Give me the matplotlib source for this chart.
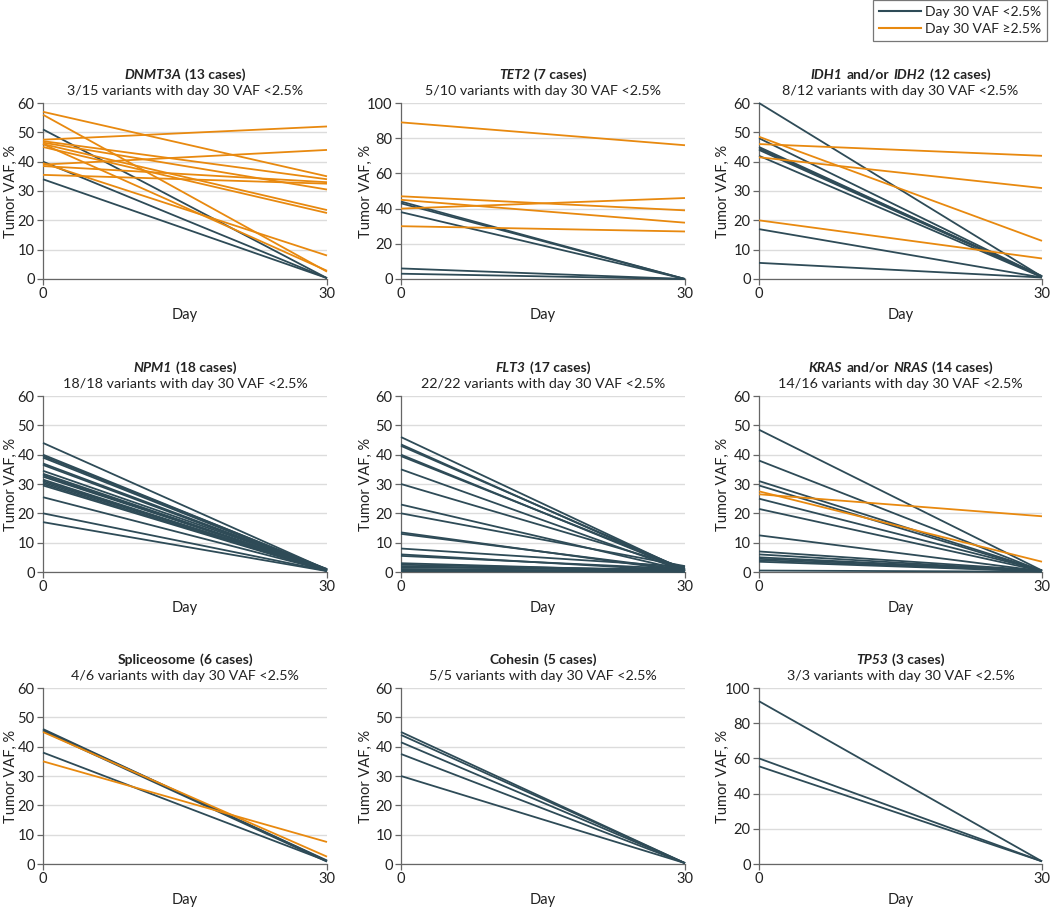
import matplotlib
matplotlib.use("Agg")
import matplotlib.pyplot as plt
from matplotlib.lines import Line2D
from matplotlib.offsetbox import TextArea, HPacker, VPacker, AnchoredOffsetbox

plt.rcParams['font.family'] = ['Lato', 'DejaVu Sans']

DARK = "#2e4b57"
ORANGE = "#e8890f"

days = [0, 30]

# ---- data: (day 0 VAF, day 30 VAF), category: 0 = <2.5%, 1 = >=2.5%
dnmt3a_d0 = [51, 40, 34, 57, 56, 47.5, 47, 46.5, 46, 45, 39, 38.5, 35.5, 39.5, 46]
dnmt3a_d30 = [0.3, 0.3, 0.3, 35, 2.5, 52, 34, 30.5, 23.5, 22.5, 44, 33, 32.5, 8, 2.8]
dnmt3a_cat = [0, 0, 0, 1, 1, 1, 1, 1, 1, 1, 1, 1, 1, 1, 1]

tet2_d0 = [44, 43, 38, 6, 3, 89, 47, 45, 40, 30]
tet2_d30 = [0, 0, 0, 0, 0, 76, 39, 32, 46, 27]
tet2_cat = [0, 0, 0, 0, 0, 1, 1, 1, 1, 1]

idh_d0 = [60, 48, 45, 44.5, 44, 42, 17, 5.5, 48.5, 46, 41.5, 20]
idh_d30 = [0.8, 0.8, 0.8, 1, 0.8, 0.6, 0.5, 0.5, 13, 42, 31, 7]
idh_cat = [0, 0, 0, 0, 0, 0, 0, 0, 1, 1, 1, 1]

npm1_d0 = [44, 40, 39.5, 39, 37, 36.5, 34.5, 33.5, 33, 32.5, 31.5, 31, 30.5, 30, 29.5, 25.5, 20, 17]
npm1_d30 = [0.8, 0.8, 1, 0.6, 0.8, 0.5, 1, 0.7, 0.5, 0.8, 0.4, 0.6, 0.9, 0.5, 0.3, 0.5, 0.4, 0.3]
npm1_cat = [0] * 18

flt3_d0 = [46, 43.5, 43, 40, 39.5, 35, 30, 23, 20, 13.5, 13, 8, 6, 5.5, 3, 2.5, 2, 1.5, 1, 0.8, 0.5, 0.3]
flt3_d30 = [0.5, 0.3, 0.8, 0.5, 1, 0.3, 1.5, 0.5, 2, 0.3, 0.8, 1.8, 0.4, 1, 0.2, 0.5, 0.3, 1, 0.2, 0.4, 0.2, 0.1]
flt3_cat = [0] * 22

ras_d0 = [48.5, 38, 31, 29.5, 25, 21.5, 12.5, 7, 6, 5, 4.5, 4, 3.5, 0.5, 27.5, 26.5]
ras_d30 = [0.5, 0.3, 0.5, 0.3, 0.5, 0.3, 0.3, 0.5, 0.3, 0.3, 0.5, 0.3, 0.2, 0.1, 3.5, 19]
ras_cat = [0] * 14 + [1, 1]

splice_d0 = [46, 45.7, 45.3, 38, 45, 35]
splice_d30 = [1, 1.2, 0.8, 1, 2.5, 7.5]
splice_cat = [0, 0, 0, 0, 1, 1]

cohesin_d0 = [45, 44, 41.5, 37.5, 30]
cohesin_d30 = [0.3, 0.3, 0.3, 0.3, 0.3]
cohesin_cat = [0] * 5

tp53_d0 = [92.5, 60, 55.5]
tp53_d30 = [1.5, 1.5, 1.5]
tp53_cat = [0, 0, 0]

panels = [
    ([("DNMT3A", "bi"), ("(13 cases)", "b")], "3/15 variants with day 30 VAF <2.5%", dnmt3a_d0, dnmt3a_d30, dnmt3a_cat, 60),
    ([("TET2", "bi"), ("(7 cases)", "b")], "5/10 variants with day 30 VAF <2.5%", tet2_d0, tet2_d30, tet2_cat, 100),
    ([("IDH1", "bi"), ("and/or", "b"), ("IDH2", "bi"), ("(12 cases)", "b")], "8/12 variants with day 30 VAF <2.5%", idh_d0, idh_d30, idh_cat, 60),
    ([("NPM1", "bi"), ("(18 cases)", "b")], "18/18 variants with day 30 VAF <2.5%", npm1_d0, npm1_d30, npm1_cat, 60),
    ([("FLT3", "bi"), ("(17 cases)", "b")], "22/22 variants with day 30 VAF <2.5%", flt3_d0, flt3_d30, flt3_cat, 60),
    ([("KRAS", "bi"), ("and/or", "b"), ("NRAS", "bi"), ("(14 cases)", "b")], "14/16 variants with day 30 VAF <2.5%", ras_d0, ras_d30, ras_cat, 60),
    ([("Spliceosome", "b"), ("(6 cases)", "b")], "4/6 variants with day 30 VAF <2.5%", splice_d0, splice_d30, splice_cat, 60),
    ([("Cohesin", "b"), ("(5 cases)", "b")], "5/5 variants with day 30 VAF <2.5%", cohesin_d0, cohesin_d30, cohesin_cat, 60),
    ([("TP53", "bi"), ("(3 cases)", "b")], "3/3 variants with day 30 VAF <2.5%", tp53_d0, tp53_d30, tp53_cat, 100),
]

W, H = 1050, 907
fig = plt.figure(figsize=(W / 100, H / 100), dpi=100)

col_left = [43, 401, 759]
col_w = [284, 284, 283]
ylab_off = [32, 35, 36]
row_top = [103, 396, 688]
row_h = 176

FS = 10
TXT = "#222222"

for i, (title_parts, subtitle, d0, d30, cat, ymax) in enumerate(panels):
    r, c = divmod(i, 3)
    left = col_left[c] / W
    bottom = 1 - (row_top[r] + row_h) / H
    ax = fig.add_axes([left, bottom, col_w[c] / W, row_h / H])
    ax.set_xlim(0, 30)
    ax.set_ylim(0, ymax)
    step = 10 if ymax == 60 else 20
    ax.set_yticks(range(0, ymax + 1, step))
    ax.set_xticks([0, 30])
    ax.grid(axis='y', color='#dcdcdc', lw=1.0)
    ax.set_axisbelow(True)
    for s in ['top', 'right']:
        ax.spines[s].set_visible(False)
    for s in ['left', 'bottom']:
        ax.spines[s].set_color('#666666')
        ax.spines[s].set_linewidth(0.9)
    ax.tick_params(colors='#666666', labelcolor=TXT, labelsize=FS + 0.5, length=4, width=0.9, pad=2)
    # draw orange later so they sit over dark where crossing
    for k in sorted(range(len(d0)), key=lambda k: cat[k]):
        ax.plot(days, [d0[k], d30[k]], color=ORANGE if cat[k] else DARK, lw=1.3,
                solid_capstyle='butt', clip_on=False, zorder=3)
    ax.set_xlabel("Day", fontsize=FS + 0.5, color=TXT, labelpad=5)
    ax.set_ylabel("Tumor VAF, %", fontsize=FS + 0.5, color=TXT, va='center')
    ax.yaxis.set_label_coords(-ylab_off[c] / col_w[c], 0.5)

    areas = []
    for txt, sty in title_parts:
        props = dict(fontsize=FS, color=TXT, weight='bold',
                     style='italic' if 'i' in sty else 'normal')
        areas.append(TextArea(txt, textprops=props))
    line1 = HPacker(children=areas, align='baseline', pad=0, sep=3)
    line2 = TextArea(subtitle, textprops=dict(fontsize=FS + 0.3, color=TXT))
    box = VPacker(children=[line1, line2], align='center', pad=0, sep=3)
    anch = AnchoredOffsetbox(loc='lower center', child=box, pad=0, borderpad=0,
                             frameon=False, bbox_to_anchor=(0.5, 1.035),
                             bbox_transform=ax.transAxes)
    ax.add_artist(anch)

handles = [Line2D([], [], color=DARK, lw=1.5), Line2D([], [], color=ORANGE, lw=1.5)]
leg = fig.legend(handles, ["Day 30 VAF <2.5%", "Day 30 VAF \u22652.5%"],
                 loc='upper right', bbox_to_anchor=(1047 / W, 1.0), fontsize=FS,
                 frameon=True, fancybox=False, edgecolor='#555555', handlelength=3.0,
                 handletextpad=0.25, borderpad=0.45, labelspacing=0.35, borderaxespad=0)
leg.get_frame().set_linewidth(0.9)
for t in leg.get_texts():
    t.set_color(TXT)

fig.savefig("out.png", dpi=100, facecolor='white')
